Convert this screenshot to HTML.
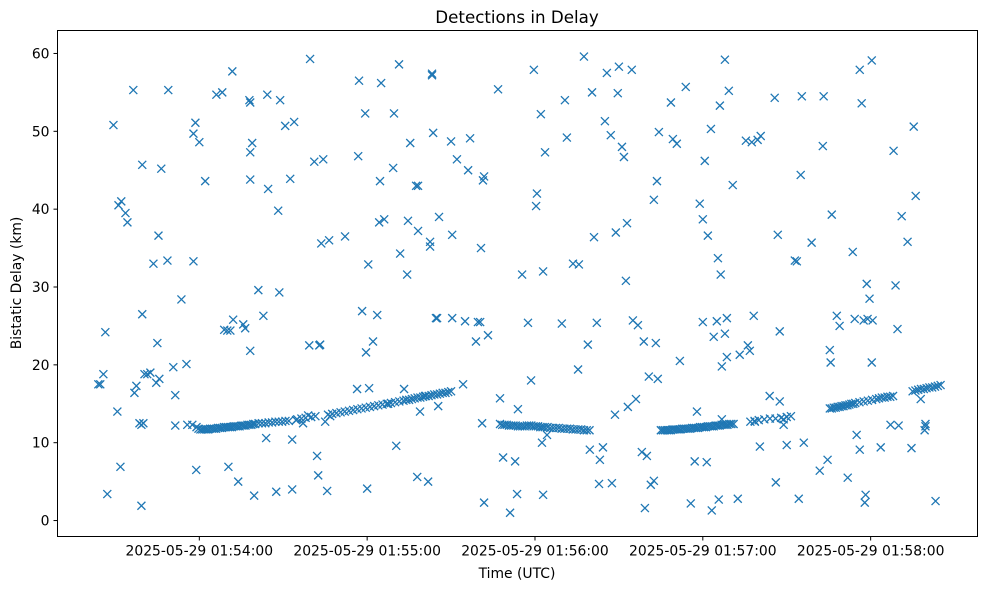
<!DOCTYPE html>
<html><head><meta charset="utf-8"><style>
html,body{margin:0;padding:0;background:#fff;}
svg{display:block;font-family:"DejaVu Sans","Liberation Sans",sans-serif;}
</style></head><body>
<svg id="chart" width="989" height="590" viewBox="0 0 989 590">
<rect width="989" height="590" fill="#fff"/>
<text x="517" y="23" text-anchor="middle" font-size="16.7">Detections in Delay</text>
<g id="marks"></g>
<g id="axes"></g>
<rect x="57.5" y="30.5" width="920" height="506" fill="none" stroke="#000" stroke-width="1"/>
<text x="517" y="578" text-anchor="middle" font-size="13.9">Time (UTC)</text>
<text transform="translate(21,283) rotate(-90)" text-anchor="middle" font-size="13.9">Bistatic Delay (km)</text>
</svg>
<script>
// seconds after 2025-05-29 01:53:00 UTC
const times = [23.9,24.6,25.7,26.4,27.1,29.3,30.7,31.1,31.8,32.1,33.6,34.3,36.4,36.8,37.5,38.6,39.3,39.3,39.6,39.6,40,40.4,41.4,42.5,43.6,44.6,45,45.4,45.7,46.4,48.6,48.9,50.7,51.4,51.4,53.6,55.4,55.7,57.5,57.9,57.9,58.6,58.9,60,62.1,66.1,68.2,68.9,70,70.4,71.1,71.8,72.1,73.9,75.7,76.4,77.9,78.2,78.2,78.2,78.2,78.9,79.6,81.1,82.9,83.9,84.3,84.6,87.5,88.2,88.6,88.9,90.7,92.5,93.2,93.2,93.9,94.6,97.1,98.9,99.3,99.6,101.1,102.1,102.5,102.9,103.2,103.6,104.3,105,105.7,106.4,106.8,112.1,116.4,116.8,117.1,118.2,119.3,119.6,120,120.4,120.7,122.1,123.6,124.3,124.6,125,126.1,127.5,129.3,129.6,130.4,131.4,131.8,133.2,134.3,134.6,135.4,137.5,137.9,138.2,138.2,138.9,140.7,141.8,142.5,142.5,143.2,143.2,143.6,144.6,145,145.4,145.7,150,150.4,150.4,152.1,154.3,155,156.1,156.8,158.9,159.6,160.4,160.7,161.1,161.4,161.8,161.8,163.2,166.8,167.5,168.6,171.1,172.9,173.6,173.9,175.4,177.5,178.6,179.6,180.4,180.7,182.1,182.5,182.9,182.9,183.6,184.3,189.6,190.7,191.4,193.6,195.4,195.7,197.5,198.9,199.6,200.4,201.1,202.1,202.9,203.2,204.3,205,205.7,207.1,207.5,208.6,208.9,209.6,210,211.1,211.8,212.5,212.9,213.2,214.6,215,216.1,216.8,218.2,218.9,219.3,220,220.7,221.4,222.5,222.5,223.2,223.6,223.9,224.3,228.6,229.3,230.7,231.8,233.9,235.7,237.1,237.9,238.9,240,240,240.7,241.4,241.8,242.9,243.2,243.9,245,245.4,245.7,246.1,246.4,246.8,246.8,247.9,247.9,248.6,248.6,249.3,250.7,252.5,253.2,255.4,256.1,256.8,257.5,258.2,258.6,259.6,260.4,260.7,263.9,265.7,266.1,266.8,267.5,267.5,268.9,268.9,270,272.9,273.6,274.3,275,275.4,276.1,278.9,281.8,282.9,283.2,284.6,285.4,285.7,286.1,287.9,288.9,291.8,293.6,294.3,295,296.1,296.1,296.8,297.5,297.9,298.2,298.6,298.9,299.6,300.4,300.4,300.7,303.6,307.1,308.2,308.9,309.6,310,311.1,313.2,314.6,315.4,316.1,317.9,319.3,319.6,319.6,323.2];
const delays = [17.5,17.5,18.8,24.2,3.4,50.8,14,40.5,6.9,41,39.5,38.3,55.3,16.4,17.3,12.5,12.3,1.9,45.7,26.5,12.5,18.8,18.8,19,33,17.7,22.8,36.6,18.2,45.2,33.4,55.3,19.7,16.1,12.2,28.4,20.1,12.3,12.3,49.7,33.3,51.1,6.5,48.6,43.6,54.7,55,24.5,24.4,6.9,24.4,57.7,25.8,5,25.2,24.7,54,53.7,21.8,47.3,43.8,48.5,3.2,29.6,26.3,10.6,54.7,42.6,3.7,39.8,29.3,54,50.7,43.9,4,10.4,51.2,12.9,12.5,13.5,22.5,59.3,46.1,8.3,5.8,22.5,22.6,35.6,46.4,12.7,3.8,36,13.4,36.5,16.9,46.8,56.5,26.9,52.3,21.6,4.1,32.9,17,23,26.4,38.3,43.6,56.2,38.7,15,45.3,52.3,9.6,58.6,34.3,16.9,31.6,38.5,48.5,43,5.6,43,37.2,14,16,5,35.2,35.8,57.2,57.4,49.8,26,26,14.7,39,48.7,36.7,26,46.4,17.5,25.6,45,49.1,23,25.5,25.5,35,12.5,43.7,2.3,44.2,23.8,55.4,15.7,8.1,1,7.6,3.4,14.3,31.6,25.4,18,57.9,40.4,42,52.2,10,3.3,32,47.3,11,25.3,54,49.2,33,19.4,32.9,59.6,22.6,9.1,55,36.4,25.4,4.7,7.8,9.4,51.3,57.5,49.5,4.8,13.6,37,54.9,58.3,48,46.7,30.8,38.2,14.6,57.9,25.7,15.6,25.1,8.8,23,1.6,8.3,18.5,4.6,5.1,41.2,22.8,43.6,18.2,49.9,53.7,49,48.4,20.5,55.7,2.2,7.6,14,40.7,38.7,25.5,46.2,7.5,36.6,50.3,1.3,23.6,25.6,33.7,2.7,53.3,31.6,13,19.8,59.2,24,26,21,55.2,43.1,2.8,21.3,48.8,22.5,21.8,48.6,26.3,12.7,48.9,9.5,49.4,16,54.3,4.9,36.7,15.3,24.3,13,12.3,9.7,33.4,33.3,2.8,44.4,54.5,10,35.7,6.4,48.1,54.5,7.8,21.9,20.3,39.3,26.3,25,5.5,34.5,25.9,11,57.9,9.1,53.6,25.7,2.3,3.3,30.4,25.9,28.5,59.1,20.3,25.7,9.4,12.3,47.5,30.2,24.6,12.2,39.1,35.8,9.3,50.6,41.7,15.6,11.6,12.4,12.1,2.5];
// dense track segments
const trackTimes = [59,59.7,60.4,61.1,61.8,62.5,63.2,63.9,64.6,65.3,66,66.7,67.4,68.1,68.8,69.5,70.2,70.9,71.6,72.3,73,73.7,74.4,75.1,75.8,76.5,77.2,77.9,78.6,79.3,80,81.2,82.4,83.6,84.8,86,87.2,88.4,89.6,90.8,92,
95,96.5,98,100,101.5,106,107.5,109,110.5,112,113.5,115,116.5,118,119.5,121,122.5,124,125.5,127,128.5,130,131.5,133,134,135,136,137,138,139,140,141,142,143,144,145,146,147,148,149,150,
167.5,168.3,169.1,169.9,170.7,171.5,172.3,173.1,173.9,174.7,175.5,176.3,177.1,177.9,178.7,179.5,180.3,181.1,181.9,182.7,183.5,184.5,185.5,186.5,187.5,188.5,189.5,190.5,191.5,192.5,193.5,194.5,195.5,196.5,197.5,198.5,199.5,
225,225.7,226.4,227.1,227.8,228.5,229.2,229.9,230.6,231.3,232,232.7,233.4,234.1,234.8,235.5,236.2,236.9,237.6,238.3,239,239.7,240.4,241.1,241.8,242.5,243.2,243.9,244.6,245.3,246,246.7,247.4,248.1,248.8,249.5,250.2,251,
257,258.5,260,262,264,266,268,270,271.5,
285.4,286.1,286.8,287.5,288.2,288.9,289.6,290.3,291,291.7,292.4,293.1,293.8,294.5,296,297.5,299,300.5,302,303,304,305,306,307,308,
315,316,317,318,319,320,321,322,323,324,325];
const trackDelays = [12,11.8,11.7,11.7,11.7,11.7,11.7,11.8,11.8,11.8,11.8,11.9,11.9,11.9,12,12,12,12,12,12.1,12.1,12.1,12.1,12.2,12.2,12.2,12.3,12.3,12.3,12.4,12.4,12.5,12.5,12.5,12.6,12.6,12.7,12.7,12.7,12.8,12.8,
13,13.1,13.2,13.3,13.4,13.6,13.7,13.8,13.9,14,14.1,14.2,14.3,14.4,14.5,14.6,14.7,14.8,14.9,15,15.1,15.2,15.3,15.4,15.5,15.5,15.6,15.7,15.8,15.8,15.9,16,16,16.1,16.2,16.2,16.3,16.4,16.4,16.5,16.6,
12.4,12.3,12.3,12.3,12.2,12.2,12.2,12.2,12.1,12.1,12.1,12.1,12.2,12.2,12.2,12.1,12.1,12.1,12,12,12,12,11.9,11.9,11.9,11.9,11.8,11.8,11.8,11.8,11.7,11.7,11.7,11.7,11.6,11.6,11.6,
11.6,11.6,11.6,11.6,11.6,11.6,11.7,11.7,11.7,11.7,11.7,11.8,11.8,11.8,11.8,11.8,11.9,11.9,11.9,11.9,12,12,12,12,12.1,12.1,12.1,12.1,12.2,12.2,12.2,12.3,12.3,12.3,12.3,12.4,12.4,12.4,
12.7,12.8,12.9,13,13.1,13.1,13.2,13.3,13.4,
14.4,14.4,14.5,14.5,14.6,14.6,14.7,14.7,14.8,14.8,14.9,15,15,15.1,15.2,15.3,15.4,15.5,15.6,15.7,15.8,15.8,15.9,15.9,16,
16.6,16.7,16.8,16.9,16.9,17,17.1,17.1,17.2,17.3,17.4];
const xTickValues = [60,120,180,240,300];
const xTickLabels = ["2025-05-29 01:54:00","2025-05-29 01:55:00","2025-05-29 01:56:00","2025-05-29 01:57:00","2025-05-29 01:58:00"];
const yTickValues = [0,10,20,30,40,50,60];

const NS="http://www.w3.org/2000/svg";
const X0=57.5,X1=977.5,Y0=30.5,Y1=536.5;
const xMin=9.3,xMax=338.2,yMin=-2.05,yMax=62.95;
function xs(t){return X0+(t-xMin)/(xMax-xMin)*(X1-X0);}
function ys(v){return Y1-(v-yMin)/(yMax-yMin)*(Y1-Y0);}
const marks=document.getElementById('marks');
function drawX(t,v,i){
  const x=xs(t),y=ys(v),r=4;
  const p=document.createElementNS(NS,'path');
  p.setAttribute('d',`M${x-r},${y-r}L${x+r},${y+r}M${x-r},${y+r}L${x+r},${y-r}`);
  p.setAttribute('stroke','#1f77b4');p.setAttribute('stroke-width','1.3');p.setAttribute('fill','none');
  
  
  marks.appendChild(p);
}
times.forEach((t,i)=>drawX(t,delays[i],i));
trackTimes.forEach((t,i)=>drawX(t,trackDelays[i],i));
const axes=document.getElementById('axes');
xTickValues.forEach((t,i)=>{
  const x=xs(t);
  const l=document.createElementNS(NS,'line');
  l.setAttribute('x1',x);l.setAttribute('x2',x);l.setAttribute('y1',Y1);l.setAttribute('y2',Y1+4);l.setAttribute('stroke','#000');
  
  
  axes.appendChild(l);
  const tx=document.createElementNS(NS,'text');
  tx.setAttribute('x',x);tx.setAttribute('y',Y1+19);tx.setAttribute('text-anchor','middle');tx.setAttribute('font-size','13.9');
  tx.textContent=xTickLabels[i];
  
  
  axes.appendChild(tx);
});
yTickValues.forEach(v=>{
  const y=ys(v);
  const l=document.createElementNS(NS,'line');
  l.setAttribute('x1',X0-4);l.setAttribute('x2',X0);l.setAttribute('y1',y);l.setAttribute('y2',y);l.setAttribute('stroke','#000');
  
  
  axes.appendChild(l);
  const tx=document.createElementNS(NS,'text');
  tx.setAttribute('x',X0-8);tx.setAttribute('y',y+5);tx.setAttribute('text-anchor','end');tx.setAttribute('font-size','13.9');
  tx.textContent=String(v);
  
  
  axes.appendChild(tx);
});
</script>
</body></html>
